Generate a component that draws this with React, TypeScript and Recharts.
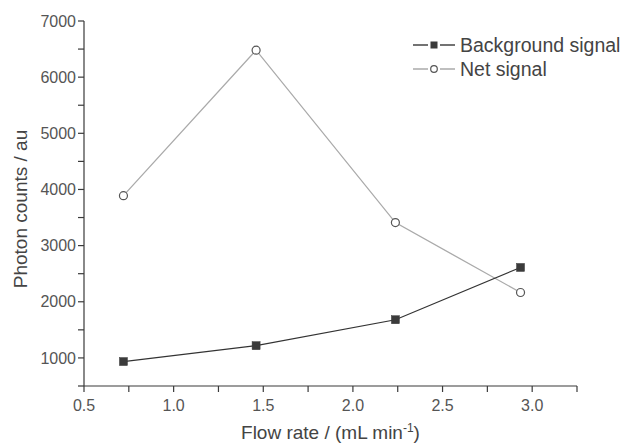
import { LineChart, Line, XAxis, YAxis, Label } from "recharts"

const flowRate = [0.72, 1.46, 2.237, 2.935]
const background = [935, 1218, 1680, 2611]
const net = [3890, 6480, 3410, 2165]

const xTicks = [0.5, 0.75, 1.0, 1.25, 1.5, 1.75, 2.0, 2.25, 2.5, 2.75, 3.0, 3.25]
const yTicks = [500, 1000, 1500, 2000, 2500, 3000, 3500, 4000, 4500, 5000, 5500, 6000, 6500, 7000]

const data = flowRate.map((x, i) => ({ x, bg: background[i], net: net[i] }))

const FONT = "'Liberation Sans', Arial, sans-serif"
const AXIS = "#3a3a3a"

const SquareDot = (props: any) => {
  const { cx, cy } = props
  if (cx == null || cy == null) return null
  return <rect x={cx - 4} y={cy - 4} width={8} height={8} fill="#3b3b3b" stroke="#3b3b3b" strokeWidth={0.5} />
}

const CircleDot = (props: any) => {
  const { cx, cy } = props
  if (cx == null || cy == null) return null
  return <circle cx={cx} cy={cy} r={4} fill="#fff" stroke="#555" strokeWidth={1.2} />
}

function LegendBox() {
  const rows = [
    { name: "Background signal", line: "#444", square: true },
    { name: "Net signal", line: "#aaa", square: false }
  ]
  return (
    <div
      style={{
        position: "absolute",
        left: 413,
        top: 33,
        fontFamily: FONT,
        fontSize: 19.5,
        color: "#444",
        lineHeight: "24px",
        whiteSpace: "nowrap"
      }}
    >
      {rows.map(r => (
        <div key={r.name} style={{ display: "flex", alignItems: "center" }}>
          <svg width={42} height={14} style={{ marginRight: 5 }}>
            <line x1={0} y1={7} x2={15} y2={7} stroke={r.line} strokeWidth={1.5} />
            <line x1={27} y1={7} x2={42} y2={7} stroke={r.line} strokeWidth={1.5} />
            {r.square
              ? <rect x={17.5} y={3.5} width={7} height={7} fill="#3b3b3b" />
              : <circle cx={21} cy={7} r={3.3} fill="#fff" stroke="#555" strokeWidth={1.2} />}
          </svg>
          <span>{r.name}</span>
        </div>
      ))}
    </div>
  )
}

export default function App() {
  return (
    <div style={{ position: "absolute", left: 0, top: 0, width: 626, height: 445, background: "#fff" }}>
      <LineChart width={626} height={445} data={data} margin={{ top: 21, right: 49, left: 0, bottom: 0 }}>
        <XAxis
          dataKey="x"
          type="number"
          domain={[0.5, 3.25]}
          ticks={xTicks}
          interval={0}
          height={59}
          stroke={AXIS}
          strokeWidth={1.2}
          tickSize={6}
          tickMargin={8}
          tick={{ fill: "#555", fontSize: 16, fontFamily: FONT }}
          tickFormatter={(v: number) => (Math.abs(v * 2 - Math.round(v * 2)) < 1e-6 && v <= 3 ? v.toFixed(1) : "")}
        >
          <Label
            content={({ viewBox }: any) => (
              <text
                x={viewBox.x + viewBox.width / 2}
                y={439}
                textAnchor="middle"
                fill="#444"
                fontSize={19}
                fontFamily={FONT}
              >
                Flow rate / (mL min<tspan dy={-7} fontSize={12}>-1</tspan><tspan dy={7}>)</tspan>
              </text>
            )}
          />
        </XAxis>
        <YAxis
          type="number"
          domain={[500, 7000]}
          ticks={yTicks}
          interval={0}
          width={84}
          stroke={AXIS}
          strokeWidth={1.2}
          tickSize={6}
          tick={{ fill: "#555", fontSize: 16, fontFamily: FONT }}
          tickFormatter={(v: number) => (v % 1000 === 0 ? String(v) : "")}
        >
          <Label
            content={() => (
              <text
                x={27}
                y={209}
                transform="rotate(-90 27 209)"
                textAnchor="middle"
                fill="#444"
                fontSize={19}
                fontFamily={FONT}
              >
                Photon counts / au
              </text>
            )}
          />
        </YAxis>
        <Line
          dataKey="net"
          name="Net signal"
          stroke="#aaa"
          strokeWidth={1.3}
          dot={<CircleDot />}
          activeDot={false}
          isAnimationActive={false}
        />
        <Line
          dataKey="bg"
          name="Background signal"
          stroke="#333"
          strokeWidth={1.2}
          dot={<SquareDot />}
          activeDot={false}
          isAnimationActive={false}
        />
      </LineChart>
      <LegendBox />
    </div>
  )
}
